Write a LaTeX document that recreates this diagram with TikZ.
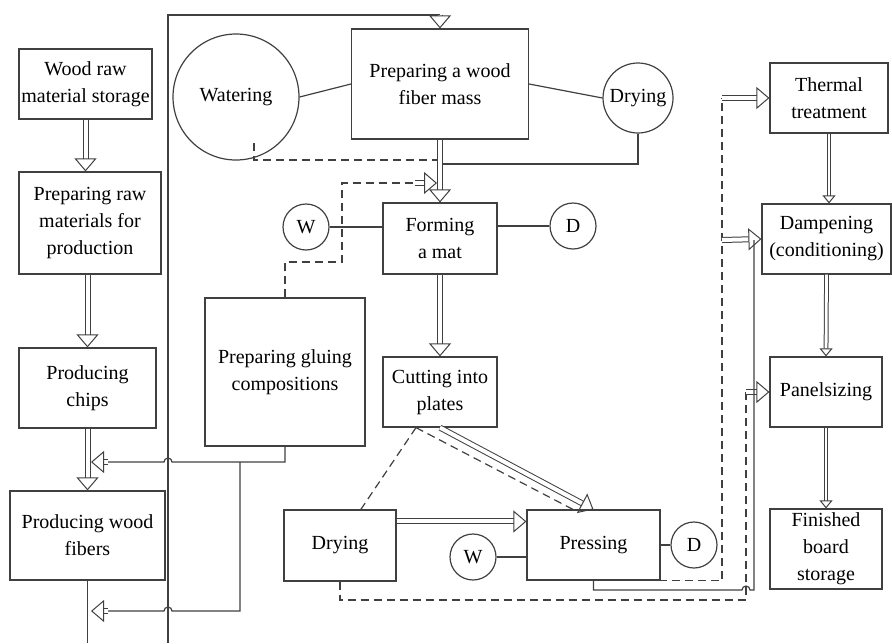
\documentclass[tikz,border=0pt]{standalone}
\usepackage{fontspec}
\setmainfont{Liberation Serif}
\usetikzlibrary{arrows.meta}

\begin{document}
\begin{tikzpicture}[x=.5pt,y=-.5pt,
    box/.style={draw=black!75,line width=.6pt,align=center,inner sep=1pt,font=\fontsize{10}{13.5}\selectfont},
    ring/.style={draw=black!75,line width=.6pt,circle,inner sep=0pt,font=\fontsize{10}{13.5}\selectfont},
    link/.style={draw=black!75,line width=.6pt},
    dashlink/.style={draw=black!75,line width=.6pt,dash pattern=on 4pt off 2.5pt},
    fat/.style={draw=black!75,double,double distance=2pt,line width=.5pt,-{Triangle[open,length=6.5pt,width=11pt,line width=.5pt]}},
    slim/.style={draw=black!75,double,double distance=1.4pt,line width=.5pt,-{Triangle[open,length=4pt,width=6.5pt,line width=.5pt]}}]
    \useasboundingbox (0,0) rectangle (892,643);
    \node[box,minimum width=66.5pt,minimum height=35pt] (store) at (85.5,84) {Wood raw\\material storage};
    \node[box,minimum width=71pt,minimum height=51pt] (prepraw) at (90,223) {Preparing raw\\materials for\\production};
    \node[box,minimum width=68.5pt,minimum height=40pt] (chips) at (87.5,388) {Producing\\chips};
    \node[box,minimum width=77.5pt,minimum height=44.5pt] (fibers) at (87.5,535.5) {Producing wood\\fibers};
    \node[box,minimum width=88.5pt,minimum height=55pt] (mass) at (440,84) {Preparing a wood\\fiber mass};
    \node[ring,minimum size=63pt] (water) at (236,97) {Watering};
    \node[ring,minimum size=35pt] (dryone) at (638,98) {Drying};
    \node[box,minimum width=57pt,minimum height=35.5pt] (mat) at (440,238.5) {Forming\\a mat};
    \node[ring,minimum size=23pt] (wone) at (306,227) {W};
    \node[ring,minimum size=23pt] (done) at (573,226) {D};
    \node[box,minimum width=57pt,minimum height=35pt] (cut) at (440,392) {Cutting into\\plates};
    \node[box,minimum width=80pt,minimum height=74pt] (glue) at (285,372) {Preparing gluing\\compositions};
    \node[box,minimum width=56pt,minimum height=35.5pt] (drytwo) at (340,545.5) {Drying};
    \node[box,minimum width=66.5pt,minimum height=35pt] (press) at (593.5,545) {Pressing};
    \node[ring,minimum size=23pt] (wtwo) at (473,557) {W};
    \node[ring,minimum size=23pt] (dtwo) at (694,545) {D};
    \node[box,minimum width=59pt,minimum height=35pt] (thermal) at (829,98) {Thermal\\treatment};
    \node[box,minimum width=64.5pt,minimum height=35pt] (damp) at (826.5,239) {Dampening\\(conditioning)};
    \node[box,minimum width=56pt,minimum height=35pt] (panel) at (826,392) {Panelsizing};
    \node[box,minimum width=56pt,minimum height=40pt] (finish) at (826,549) {Finished\\board\\storage};
    \coordinate (loopin) at (168,643);
    \coordinate (looptop) at (440,15);
    \coordinate (joinone) at (443,164);
    \coordinate (wetdrop) at (254,143);
    \coordinate (jointwo) at (437,160);
    \coordinate (gluein) at (415,183);
    \coordinate (gluetip) at (437,183);
    \coordinate (branch) at (240,462);
    \coordinate (chipfeed) at (108,462);
    \coordinate (chiphead) at (91,462);
    \coordinate (fibrefeed) at (108,611);
    \coordinate (fibrehead) at (91,611);
    \coordinate (lowrun) at (746,600);
    \coordinate (panelfeed) at (746,392);
    \coordinate (thermfeed) at (722,98);
    \coordinate (dampup) at (754,240);
    \coordinate (dampfeed) at (722,240);
    \draw[fat] (store.south) -- (store.south |- prepraw.north);
    \draw[fat] (chips.north |- prepraw.south) -- (chips.north);
    \draw[fat] (chips.south) -- (fibers.north);
    \draw[link] (fibers.south) -- (fibers.south |- loopin);
    \draw[link] (loopin) |- (looptop);
    \draw[fat] (looptop) -- (mass.north);
    \draw[link] (water.east) -- (mass.west);
    \draw[link] (mass.east) -- (dryone.west);
    \draw[link] (dryone.south) |- (joinone);
    \draw[dashlink] (wetdrop) |- (jointwo);
    \draw[fat] (mass.south) -- (mat.north);
    \draw[dashlink] (glue.north) |- (342,262) |- (gluein);
    \draw[fat] (gluein) -- (gluetip);
    \draw[link] (wone.east) -- (wone.east -| mat.west);
    \draw[link] (mat.east |- done.west) -- (done.west);
    \draw[fat] (mat.south) -- (cut.north);
    \draw[link] (glue.south) |- (172,462) arc[start angle=0,end angle=180,radius=2pt] -- (chipfeed);
    \draw[fat] (chipfeed) -- (chiphead);
    \draw[link] (branch) |- (172,611) arc[start angle=0,end angle=180,radius=2pt] -- (fibrefeed);
    \draw[fat] (fibrefeed) -- (fibrehead);
    \draw[dashlink] (cut.236) -- (drytwo.60);
    \draw[dashlink] (cut.236) -- (press.120);
    \draw[fat] (cut.south) -- (press.north);
    \draw[fat] (drytwo.23) -- (drytwo.23 -| press.west);
    \draw[link] (wtwo.east) -- (wtwo.east -| press.west);
    \draw[link] (press.east) -- (dtwo.west);
    \draw[dashlink] (drytwo.south) |- (lowrun) -- (panelfeed);
    \draw[fat] (panelfeed) -- (panel.west);
    \draw[dashlink] (press.south) -| (thermfeed);
    \draw[fat] (thermfeed) -- (thermal.west);
    \draw[link] (press.south) |- (742,590) arc[start angle=180,end angle=0,radius=2pt] -| (dampup);
    \draw[fat] (dampfeed) -- (damp.west);
    \draw[slim] (thermal.south) -- (thermal.south |- damp.north);
    \draw[slim] (damp.south) -- (panel.north);
    \draw[slim] (panel.south) -- (finish.north);
  \end{tikzpicture}
\end{document}
